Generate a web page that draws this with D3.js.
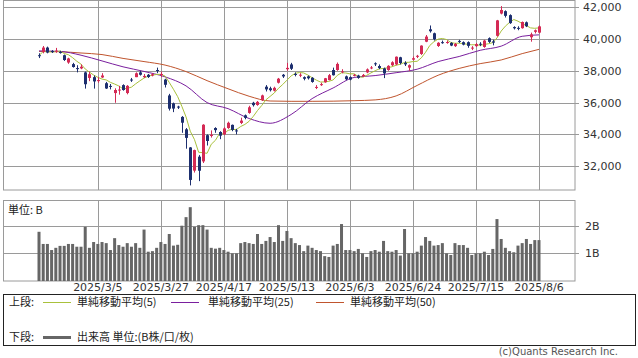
<!DOCTYPE html>
<html>
<head>
<meta charset="utf-8">
<script src="https://cdn.jsdelivr.net/npm/d3@7"></script>
<style>
body { margin: 0; background: #fff; }
svg { display: block; font-family: "DejaVu Sans", sans-serif; }
</style>
</head>
<body>
<script>
// trading days shown on the chart
var dates = [
"2025/2/12","2025/2/13","2025/2/14","2025/2/17","2025/2/18","2025/2/19","2025/2/20","2025/2/21","2025/2/25","2025/2/26","2025/2/27","2025/2/28",
"2025/3/3","2025/3/4","2025/3/5","2025/3/6","2025/3/7","2025/3/10","2025/3/11","2025/3/12","2025/3/13","2025/3/14","2025/3/17","2025/3/18","2025/3/19","2025/3/21","2025/3/24","2025/3/25","2025/3/26","2025/3/27","2025/3/28","2025/3/31",
"2025/4/1","2025/4/2","2025/4/3","2025/4/4","2025/4/7","2025/4/8","2025/4/9","2025/4/10","2025/4/11","2025/4/14","2025/4/15","2025/4/16","2025/4/17","2025/4/18","2025/4/21","2025/4/22","2025/4/23","2025/4/24","2025/4/25","2025/4/28","2025/4/30",
"2025/5/1","2025/5/2","2025/5/7","2025/5/8","2025/5/9","2025/5/12","2025/5/13","2025/5/14","2025/5/15","2025/5/16","2025/5/19","2025/5/20","2025/5/21","2025/5/22","2025/5/23","2025/5/26","2025/5/27","2025/5/28","2025/5/29","2025/5/30",
"2025/6/2","2025/6/3","2025/6/4","2025/6/5","2025/6/6","2025/6/9","2025/6/10","2025/6/11","2025/6/12","2025/6/13","2025/6/16","2025/6/17","2025/6/18","2025/6/19","2025/6/20","2025/6/23","2025/6/24","2025/6/25","2025/6/26","2025/6/27","2025/6/30",
"2025/7/1","2025/7/2","2025/7/3","2025/7/4","2025/7/7","2025/7/8","2025/7/9","2025/7/10","2025/7/11","2025/7/14","2025/7/15","2025/7/16","2025/7/17","2025/7/18","2025/7/22","2025/7/23","2025/7/24","2025/7/25","2025/7/28","2025/7/29","2025/7/30","2025/7/31",
"2025/8/1","2025/8/4","2025/8/5","2025/8/6"
];

var opens = [
38980,39180,39460,39250,39200,39180,38980,38520,38420,38170,38150,37900,
37550,37600,37350,37580,37220,37050,36600,36780,37100,36600,37450,37600,37900,37600,37750,37700,38050,37750,37450,36450,
35950,35750,35100,34320,33180,31720,32600,32300,33950,33900,34400,34150,34000,34400,34600,34250,34720,35200,35350,35990,35850,
36150,37000,36900,36750,37250,37750,38100,38400,37800,37700,37600,37650,37560,36950,37150,37280,37420,38050,38050,37900,
37650,37600,37700,37700,37650,37900,38150,38470,38300,38150,38050,38350,38400,38850,38500,38200,38700,38900,39060,39830,40610,
40360,39560,39800,39800,39750,39550,39880,39800,39800,39400,39550,39700,39500,40050,39850,40200,41600,41750,41500,40750,40700,40680,
41050,40110,40450,40400
];
var highs = [
39100,39560,39520,39300,39440,39260,39020,38820,38500,38350,38400,37950,
37950,37700,37600,37850,37300,37170,36900,37050,37150,37100,37550,37900,38000,37800,37800,37850,38200,37950,37500,36550,
36000,35800,35150,34400,33200,33040,32700,34640,34000,34250,34450,34200,34450,34800,34620,34350,35050,35250,35800,36050,36100,
36500,37100,37000,37000,37550,37800,38500,38500,37900,37850,37650,37700,37600,37100,37250,37550,37800,38200,38520,38100,
37700,37650,37800,37750,37800,38150,38300,38530,38400,38200,38350,38600,38900,38880,38600,38400,38900,39000,39600,40250,40850,
40400,39800,39900,39900,39800,39750,39950,39850,39850,39550,39750,39800,39950,40100,39950,41200,42070,41800,41550,40800,40800,41100,
41100,40400,40600,40850
];
var lows = [
38800,39100,39100,39120,39130,39080,38620,38440,38200,37900,38100,36880,
37350,36880,37250,37550,36860,36830,35990,36500,36750,36520,37300,37600,37700,37550,37550,37650,37850,37600,36950,35500,
35400,35600,34100,33100,30792,31600,31060,32200,33300,33800,34100,33700,33950,34350,34200,34000,34650,34950,35300,35750,35800,
36100,36700,36700,36700,37200,37550,38000,38050,37650,37600,37400,37450,37250,36850,37050,37250,37400,37700,38000,37850,
37400,37400,37650,37500,37600,37850,38100,38300,38100,37540,38000,38300,38350,38400,38300,38000,38650,38800,39000,39800,40400,
39900,39500,39700,39700,39550,39500,39750,39600,39450,39300,39500,39550,39450,39750,39600,40150,41550,41350,40950,40600,40550,40650,
40750,39830,40350,40350
];
var closes = [
38963,39461,39149,39174,39270,39164,38678,38776,38237,38142,38256,37155,
37785,37331,37418,37704,36887,37028,36793,36819,36790,37053,37396,37845,37751,37677,37608,37780,38027,37799,37120,35617,
35624,35725,34735,33780,31136,33012,31714,34609,33585,33982,34267,33920,34377,34730,34280,34220,34868,35039,35705,35839,36045,
36452,36830,36780,36928,37503,37644,38183,38128,37755,37753,37498,37529,37299,36985,37160,37531,37724,37722,38432,37965,
37470,37446,37747,37554,37741,38088,38211,38421,38173,37834,38311,38536,38885,38488,38403,38354,38790,38942,39584,40150,40487,
39986,39762,39785,39810,39587,39688,39821,39646,39569,39459,39678,39663,39901,39819,39774,41171,41826,41456,40998,40674,40654,41069,
40800,40290,40549,40794
];
// volume, billions of shares
var volumes = [
1.78,1.34,1.34,1.12,1.20,1.27,1.27,1.34,1.34,1.24,1.24,1.96,
1.20,1.41,1.34,1.41,1.37,1.12,1.55,1.30,1.24,1.37,1.24,1.37,1.20,1.86,1.06,1.08,1.20,1.41,1.34,1.70,
1.28,1.31,2.00,2.31,2.67,1.96,2.02,2.02,1.86,1.20,1.17,1.20,1.12,1.06,1.00,1.00,1.37,1.41,1.37,1.34,1.70,
1.34,1.45,1.59,1.41,2.02,1.45,1.81,1.55,1.37,1.30,1.08,1.28,1.20,1.12,1.08,0.90,0.87,1.28,1.34,2.06,
1.12,1.12,1.08,1.16,1.00,0.87,1.08,1.12,1.06,1.45,1.08,1.06,1.12,0.92,1.88,1.00,1.00,1.06,1.28,1.59,1.45,
1.28,1.30,1.37,1.00,0.94,1.37,1.30,1.30,1.20,0.94,1.00,1.00,1.06,0.94,1.16,2.24,1.52,1.20,1.08,1.04,1.28,1.37,
1.52,1.34,1.48,1.48
];

// moving averages at every 5th day
var maIndex = [0,5,10,15,20,25,30,35,40,45,50,55,60,65,70,75,80,85,90,95,100,105,110,115,119];
var ma25 = [39250,39220,38980,38620,38250,37960,37620,37050,36000,35620,35000,34700,35250,36250,36920,37580,37700,37880,38100,38580,38900,39290,39550,40170,40260];
var ma50 = [39220,39200,39120,39020,38780,38580,38360,37950,37380,36870,36400,36100,36080,36080,36090,36120,36170,36420,37080,37720,38150,38450,38680,39080,39350];

var xLabels = ["2025/3/5","2025/3/27","2025/4/17","2025/5/13","2025/6/3","2025/6/24","2025/7/15","2025/8/6"];
var priceTicks = [32000,34000,36000,38000,40000,42000];
var volTicks = [1,2];

var W = 638, H = 358;
var upColor = "#d42a55", downColor = "#1d2f6f";
var grid = "#9a9a9a";

var svg = d3.select("body").append("svg").attr("width", W).attr("height", H);

var x = d3.scalePoint().domain(dates).range([3, 575]).padding(8.57);
var y = d3.scaleLinear().domain([30503, 42421]).range([190, 0.5]);
var yv = d3.scaleLinear().domain([0, 2.93]).range([281, 200]);

function crisp(v) { return Math.round(v) + 0.5; }

// ---- price panel frame & grid
var gTop = svg.append("g");
gTop.append("rect").attr("x", 3.5).attr("y", 0.5).attr("width", 571.5).attr("height", 189.5)
    .attr("fill", "none").attr("stroke", grid);
gTop.selectAll(".hg").data(priceTicks).enter().append("line")
    .attr("x1", 3).attr("x2", 579)
    .attr("y1", function(d){ return crisp(y(d)); })
    .attr("y2", function(d){ return crisp(y(d)); })
    .attr("stroke", grid);
gTop.selectAll(".vg").data(xLabels).enter().append("line")
    .attr("x1", function(d){ return crisp(x(d)); })
    .attr("x2", function(d){ return crisp(x(d)); })
    .attr("y1", 0).attr("y2", 190)
    .attr("stroke", grid);
gTop.selectAll(".pl").data(priceTicks).enter().append("text")
    .attr("x", 583).attr("y", function(d){ return y(d); })
    .attr("dy", "0.36em").attr("font-size", 11).attr("fill", "#333")
    .text(d3.format(","));

// ---- volume panel frame & grid
var gBot = svg.append("g");
gBot.append("rect").attr("x", 3.5).attr("y", 200.5).attr("width", 571.5).attr("height", 80.5)
    .attr("fill", "none").attr("stroke", grid);
gBot.selectAll(".hg").data(volTicks).enter().append("line")
    .attr("x1", 3).attr("x2", 579)
    .attr("y1", function(d){ return crisp(yv(d)); })
    .attr("y2", function(d){ return crisp(yv(d)); })
    .attr("stroke", grid);
gBot.selectAll(".vg").data(xLabels).enter().append("line")
    .attr("x1", function(d){ return crisp(x(d)); })
    .attr("x2", function(d){ return crisp(x(d)); })
    .attr("y1", 200).attr("y2", 281)
    .attr("stroke", grid);
gBot.selectAll(".vl").data(volTicks).enter().append("text")
    .attr("x", 585).attr("y", function(d){ return yv(d); })
    .attr("dy", "0.36em").attr("font-size", 11).attr("fill", "#333")
    .text(function(d){ return d + "B"; });
gBot.append("text").attr("x", 8).attr("y", 210).attr("dy", "0.36em")
    .attr("font-size", 11).attr("fill", "#222")
    .attr("font-family", "'Noto Sans CJK JP', sans-serif")
    .text("単位: B");

gBot.selectAll(".bar").data(volumes).enter().append("rect")
    .attr("x", function(d, i){ return x(dates[i]) - 1.5; })
    .attr("width", 3)
    .attr("y", function(d){ return yv(d); })
    .attr("height", function(d){ return yv(0) - yv(d); })
    .attr("fill", "#666");

// x labels
svg.selectAll(".xl").data(xLabels).enter().append("text")
    .attr("x", function(d){ return x(d); }).attr("y", 291)
    .attr("text-anchor", "middle").attr("font-size", 11).attr("fill", "#333")
    .text(function(d){ return d; });

// ---- moving averages
var ma5 = closes.map(function(c, i){ return d3.mean(closes.slice(Math.max(0, i - 4), i + 1)); });
var line5 = d3.line().x(function(d, i){ return x(dates[i]); }).y(function(d){ return y(d); });
var lineMA = d3.line().curve(d3.curveMonotoneX)
    .x(function(d, i){ return x(dates[maIndex[i]]); }).y(function(d){ return y(d); });

gTop.append("path").datum(ma50).attr("d", lineMA).attr("fill", "none").attr("stroke", "#c0552e").attr("stroke-width", 1);
gTop.append("path").datum(ma25).attr("d", lineMA).attr("fill", "none").attr("stroke", "#7a1f9e").attr("stroke-width", 1);
gTop.append("path").datum(ma5).attr("d", line5).attr("fill", "none").attr("stroke", "#a9c13c").attr("stroke-width", 1);

// ---- candles
var candles = gTop.selectAll(".c").data(dates).enter().append("g");
candles.append("line")
    .attr("x1", function(d){ return crisp(x(d)); })
    .attr("x2", function(d){ return crisp(x(d)); })
    .attr("y1", function(d, i){ return y(highs[i]); })
    .attr("y2", function(d, i){ return y(lows[i]); })
    .attr("stroke", function(d, i){ return closes[i] >= opens[i] ? upColor : downColor; });
candles.append("rect")
    .attr("x", function(d){ return Math.round(x(d)) - 1; })
    .attr("width", 3)
    .attr("y", function(d, i){ return y(Math.max(opens[i], closes[i])); })
    .attr("height", function(d, i){ return Math.max(1, Math.abs(y(opens[i]) - y(closes[i]))); })
    .attr("fill", function(d, i){ return closes[i] >= opens[i] ? upColor : downColor; });

// ---- legend
var lg = svg.append("g").attr("font-family", "'Noto Sans CJK JP', sans-serif").attr("font-size", 11).attr("fill", "#222");
lg.append("rect").attr("x", 3.5).attr("y", 294.5).attr("width", 632).attr("height", 51)
    .attr("fill", "none").attr("stroke", "#222");
var legendTop = [
  { name: "単純移動平均(5)", color: "#a9c13c", x1: 43, tx: 77 },
  { name: "単純移動平均(25)", color: "#7a1f9e", x1: 171, tx: 208 },
  { name: "単純移動平均(50)", color: "#c0552e", x1: 316, tx: 350 }
];
lg.append("text").attr("x", 9).attr("y", 302).attr("dy", "0.36em").text("上段:");
lg.selectAll(".lt").data(legendTop).enter().append("line")
    .attr("x1", function(d){ return d.x1; }).attr("x2", function(d){ return d.x1 + 28; })
    .attr("y1", 302.5).attr("y2", 302.5).attr("stroke", function(d){ return d.color; });
lg.selectAll(".ltt").data(legendTop).enter().append("text")
    .attr("x", function(d){ return d.tx; }).attr("y", 302).attr("dy", "0.36em")
    .text(function(d){ return d.name; });
lg.append("text").attr("x", 9).attr("y", 337).attr("dy", "0.36em").text("下段:");
lg.append("line").attr("x1", 43).attr("x2", 71).attr("y1", 337.5).attr("y2", 337.5)
    .attr("stroke", "#666").attr("stroke-width", 3);
lg.append("text").attr("x", 77).attr("y", 337).attr("dy", "0.36em").text("出来高 単位:(B株/口/枚)");

svg.append("text").attr("x", 618).attr("y", 355).attr("text-anchor", "end")
    .attr("font-size", 10).attr("fill", "#555").text("(c)Quants Research Inc.");
</script>
</body>
</html>
